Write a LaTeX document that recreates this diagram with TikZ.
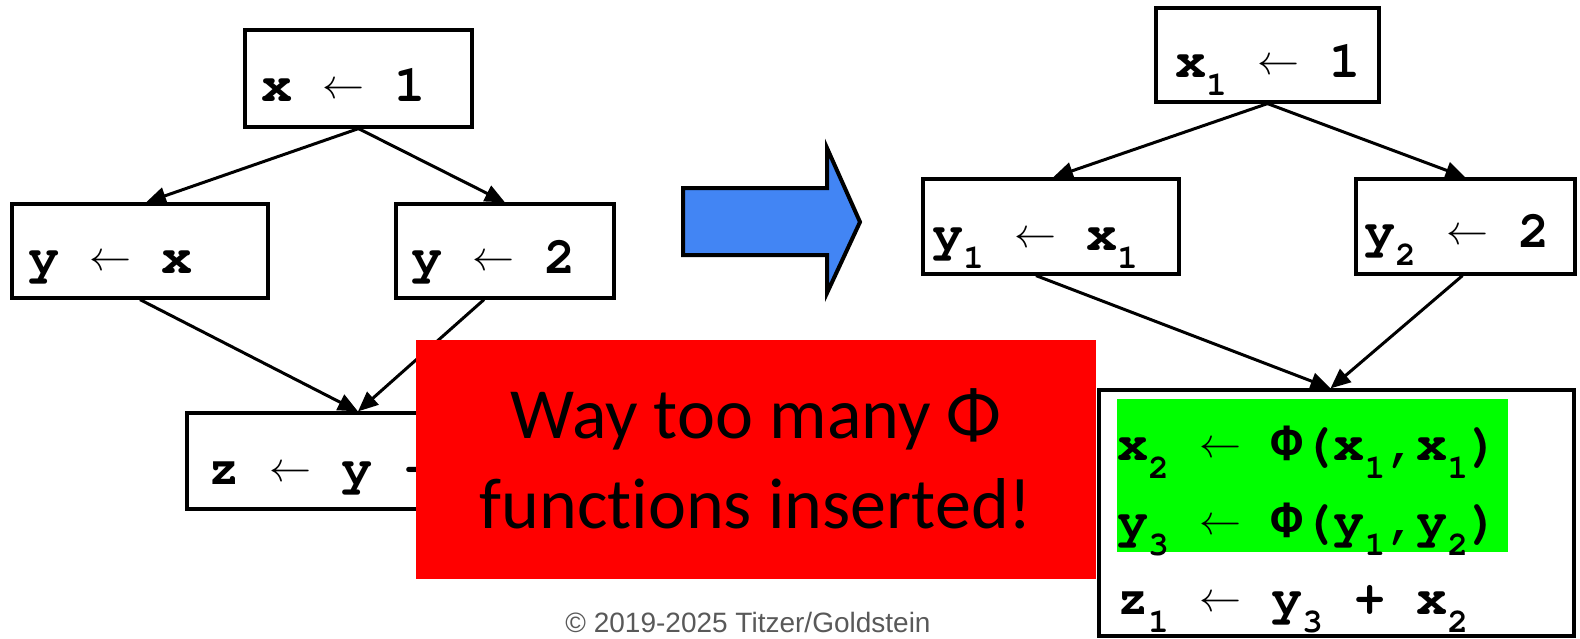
\documentclass[tikz,border=0pt]{standalone}
\usepackage{fontspec}
\setmonofont{Liberation Mono}
\newfontfamily\phif{Liberation Mono}
\newfontfamily\calib[Ligatures=NoCommon]{Carlito}
\newfontfamily\arialf{Liberation Sans}
\usepackage{graphicx}
\usetikzlibrary{arrows.meta}
\definecolor{arrowblue}{RGB}{66,133,244}
\definecolor{phigreen}{RGB}{0,255,0}
\definecolor{copygray}{RGB}{89,89,89}
\newcommand{\courb}{\fontencoding{T1}\fontfamily{pcr}\fontseries{b}\fontshape{n}\fontsize{52}{52}\selectfont}
\newcommand{\courm}{\fontencoding{T1}\fontfamily{pcr}\fontseries{b}\fontshape{n}\fontsize{34}{34}\selectfont}
\newcommand{\la}{\makebox[40pt]{\fontsize{10}{12}\selectfont\raisebox{3pt}{\scalebox{4.2}{$\leftarrow$}}}}
\newcommand{\sbs}[1]{\raisebox{-18pt}{\courm #1}}
\newcommand{\Ph}{{\phif\bfseries\fontsize{52}{52}\selectfont Φ}}
\tikzset{
  blk/.style={draw=black, line width=3.2pt, fill=white, inner sep=0pt},
  code/.style={font=\courb, inner sep=0pt, anchor=base west},
  conn/.style={line width=3pt, -{Triangle[length=20pt,width=17pt]}},
}
\begin{document}
\begin{tikzpicture}[x=1pt,y=-1pt]
\useasboundingbox (0,0) rectangle (1580,638);
% ---------- left graph ----------
\node[blk, minimum width=227pt, minimum height=97pt] (A) at (358.5,78.5) {};
\node[blk, minimum width=256pt, minimum height=94pt] (B) at (140,251) {};
\node[blk, minimum width=218pt, minimum height=94pt] (C) at (505,251) {};
\node[blk, minimum width=342pt, minimum height=96pt] (D) at (358,461) {};
\node[code] (At) at (261,101) {x~\la~1};
\node[code] (Bt) at (28,273) {y~\la~x};
\node[code] (Ct) at (411,273) {y~\la~2};
\node[code] (Dt) at (208,484) {z~\la~y~+~x};
\draw[conn] (A.south) -- ([xshift=6pt]B.north);
\draw[conn] (A.south) -- (C.north);
\draw[conn] (B.south) -- (D.north);
\draw[conn] ([xshift=-21pt]C.south) -- (D.north);
% ---------- blue arrow ----------
\draw[fill=arrowblue, line width=4pt, line join=miter]
  (683,188) -- (827,188) -- (827,148) -- (860,222) -- (827,293) -- (827,255) -- (683,255) -- cycle;
% ---------- right graph ----------
\node[blk, minimum width=223pt, minimum height=94pt] (E) at (1267.5,55) {};
\node[blk, minimum width=256pt, minimum height=95pt] (F) at (1051,226.5) {};
\node[blk, minimum width=219pt, minimum height=95pt] (G) at (1465.5,226.5) {};
\node[blk, minimum width=475pt, minimum height=246pt] (H) at (1336.5,513) {};
\fill[phigreen] (1117,399) rectangle (1508,552);
\node[code] (Et) at (1175,77) {x\sbs{1}~\la~1};
\node[code] (Ft) at (932,250) {y\sbs{1}~\la~x\sbs{1}};
\node[code] (Gt) at (1364,247) {y\sbs{2}~\la~2};
\node[code] (H1) at (1117,460) {x\sbs{2}~\la~\Ph(x\sbs{1},x\sbs{1})};
\node[code] (H2) at (1117,537) {y\sbs{3}~\la~\Ph(y\sbs{1},y\sbs{2})};
\node[code] (H3) at (1117,614) {z\sbs{1}~\la~y\sbs{3}~+~x\sbs{2}};
\draw[conn] (E.south) -- ([xshift=2pt]F.north);
\draw[conn] (E.south) -- (G.north);
\draw[conn] ([xshift=-15pt]F.south) -- ([xshift=-6pt]H.north);
\draw[conn] ([xshift=-3pt]G.south) -- ([xshift=-6pt]H.north);
% ---------- red callout ----------
\node[fill=red, inner sep=0pt, minimum width=680pt, minimum height=239pt] (R) at (756,459.5) {};
\node[font=\calib\fontsize{72}{72}\selectfont, inner sep=0pt, anchor=base] (R1) at (756,438) {Way too many Φ};
\node[font=\calib\fontsize{72}{72}\selectfont, inner sep=0pt, anchor=base] (R2) at (756,528) {functions inserted!};
% ---------- footer ----------
\node[font=\arialf\fontsize{28}{28}\selectfont, text=copygray, inner sep=0pt, anchor=base] (cp) at (748,632) {© 2019-2025 Titzer/Goldstein};
\end{tikzpicture}
\end{document}
